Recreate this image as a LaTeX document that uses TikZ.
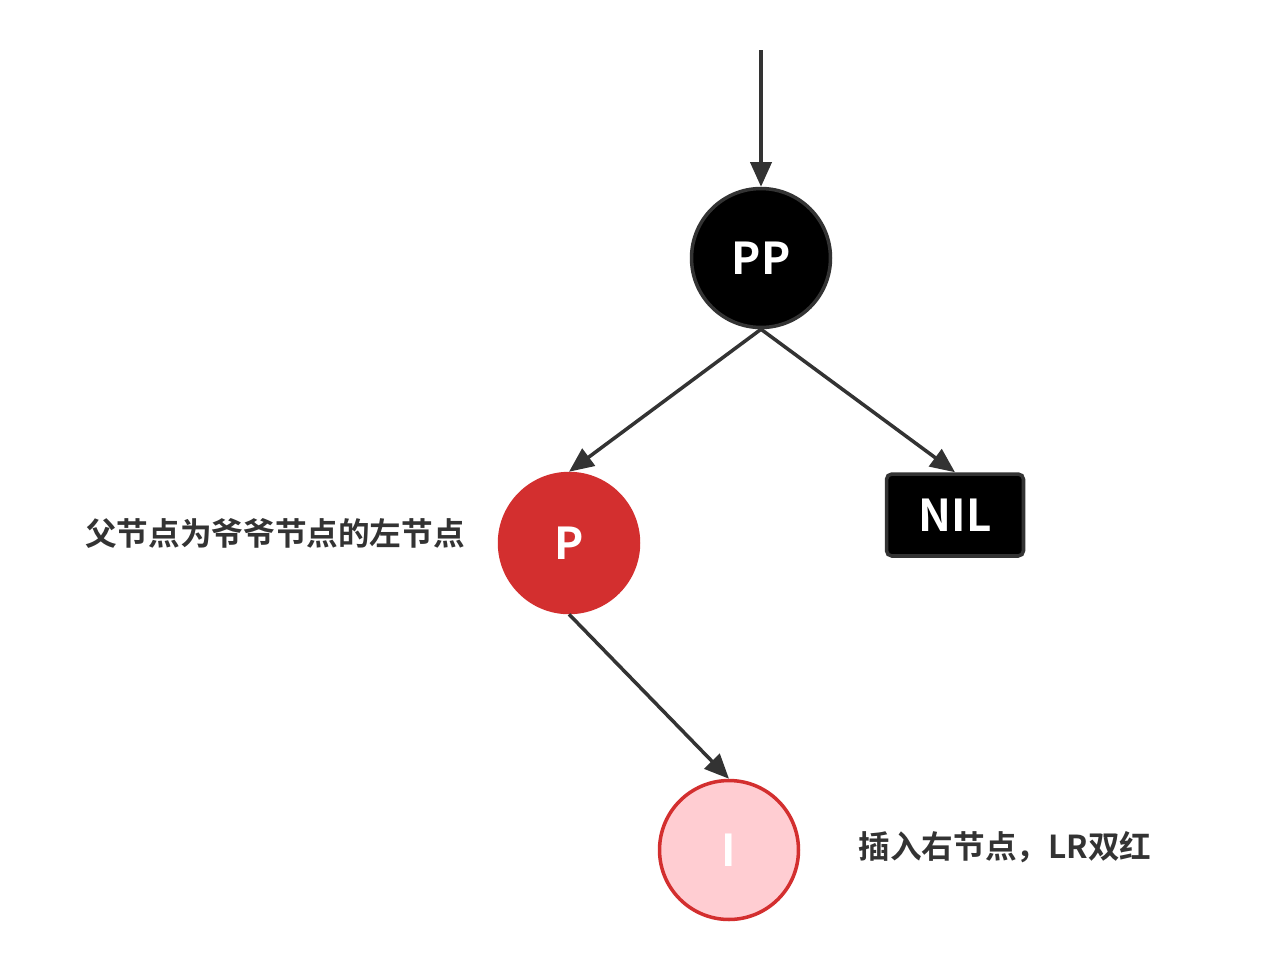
\documentclass[tikz,border=0pt]{standalone}
\usepackage{fontspec}
\setmainfont{Noto Sans CJK SC}[BoldFont={Noto Sans CJK SC Bold}]
\usepackage{xcolor}
\usepackage{tikz}
\usetikzlibrary{positioning, arrows.meta}

\definecolor{edgegray}{HTML}{333333}
\definecolor{rbred}{HTML}{D32F2F}
\definecolor{rbpink}{HTML}{FFCDD2}

\begin{document}
\begin{tikzpicture}[
  x=0.02cm, y=-0.02cm,
  every node/.style={font=\bfseries},
  nodetxt/.style={font=\fontsize{25}{27}\selectfont\bfseries, text=white},
  blacknode/.style={circle, nodetxt, fill=black, draw=edgegray,
                    line width=2pt, minimum size=2.78cm, inner sep=0pt},
  rednode/.style={circle, nodetxt, fill=rbred, draw=rbred,
                  line width=2pt, minimum size=2.78cm, inner sep=0pt},
  newnode/.style={circle, nodetxt, fill=rbpink, draw=rbred,
                  line width=2pt, minimum size=2.78cm, inner sep=0pt},
  nilbox/.style={rectangle, nodetxt, fill=black, draw=edgegray,
                 line width=2pt, rounded corners=3pt,
                 minimum width=2.74cm, minimum height=1.64cm, inner sep=0pt},
  link/.style={-{Triangle[length=14pt,width=12pt]}, line width=2pt,
               draw=edgegray},
  note/.style={font=\fontsize{18}{20}\selectfont\bfseries, text=edgegray},
]

\useasboundingbox (0,0) rectangle (1281,971);

% --- tree nodes ---
\coordinate (root) at (761,50);
\node[blacknode] (pp) at (761,258) {PP};
\node[rednode] (p) at (569,543) {P};
\node[nilbox] (nil) at (955,515) {NIL};
\node[newnode] (i) at (729,850) {I};

% --- links ---
\draw[link] (root) -- (pp.north);
\draw[link] (pp.south) -- (p.north);
\draw[link] (pp.south) -- (nil.north);
\draw[link] (p.south) -- (i.north);

% --- notes ---
\node[note] (lnote) at (275,533) {父节点为爷爷节点的左节点};
\node[note] (rnote) at (1005,847) {插入右节点，LR双红};

\end{tikzpicture}
\end{document}
